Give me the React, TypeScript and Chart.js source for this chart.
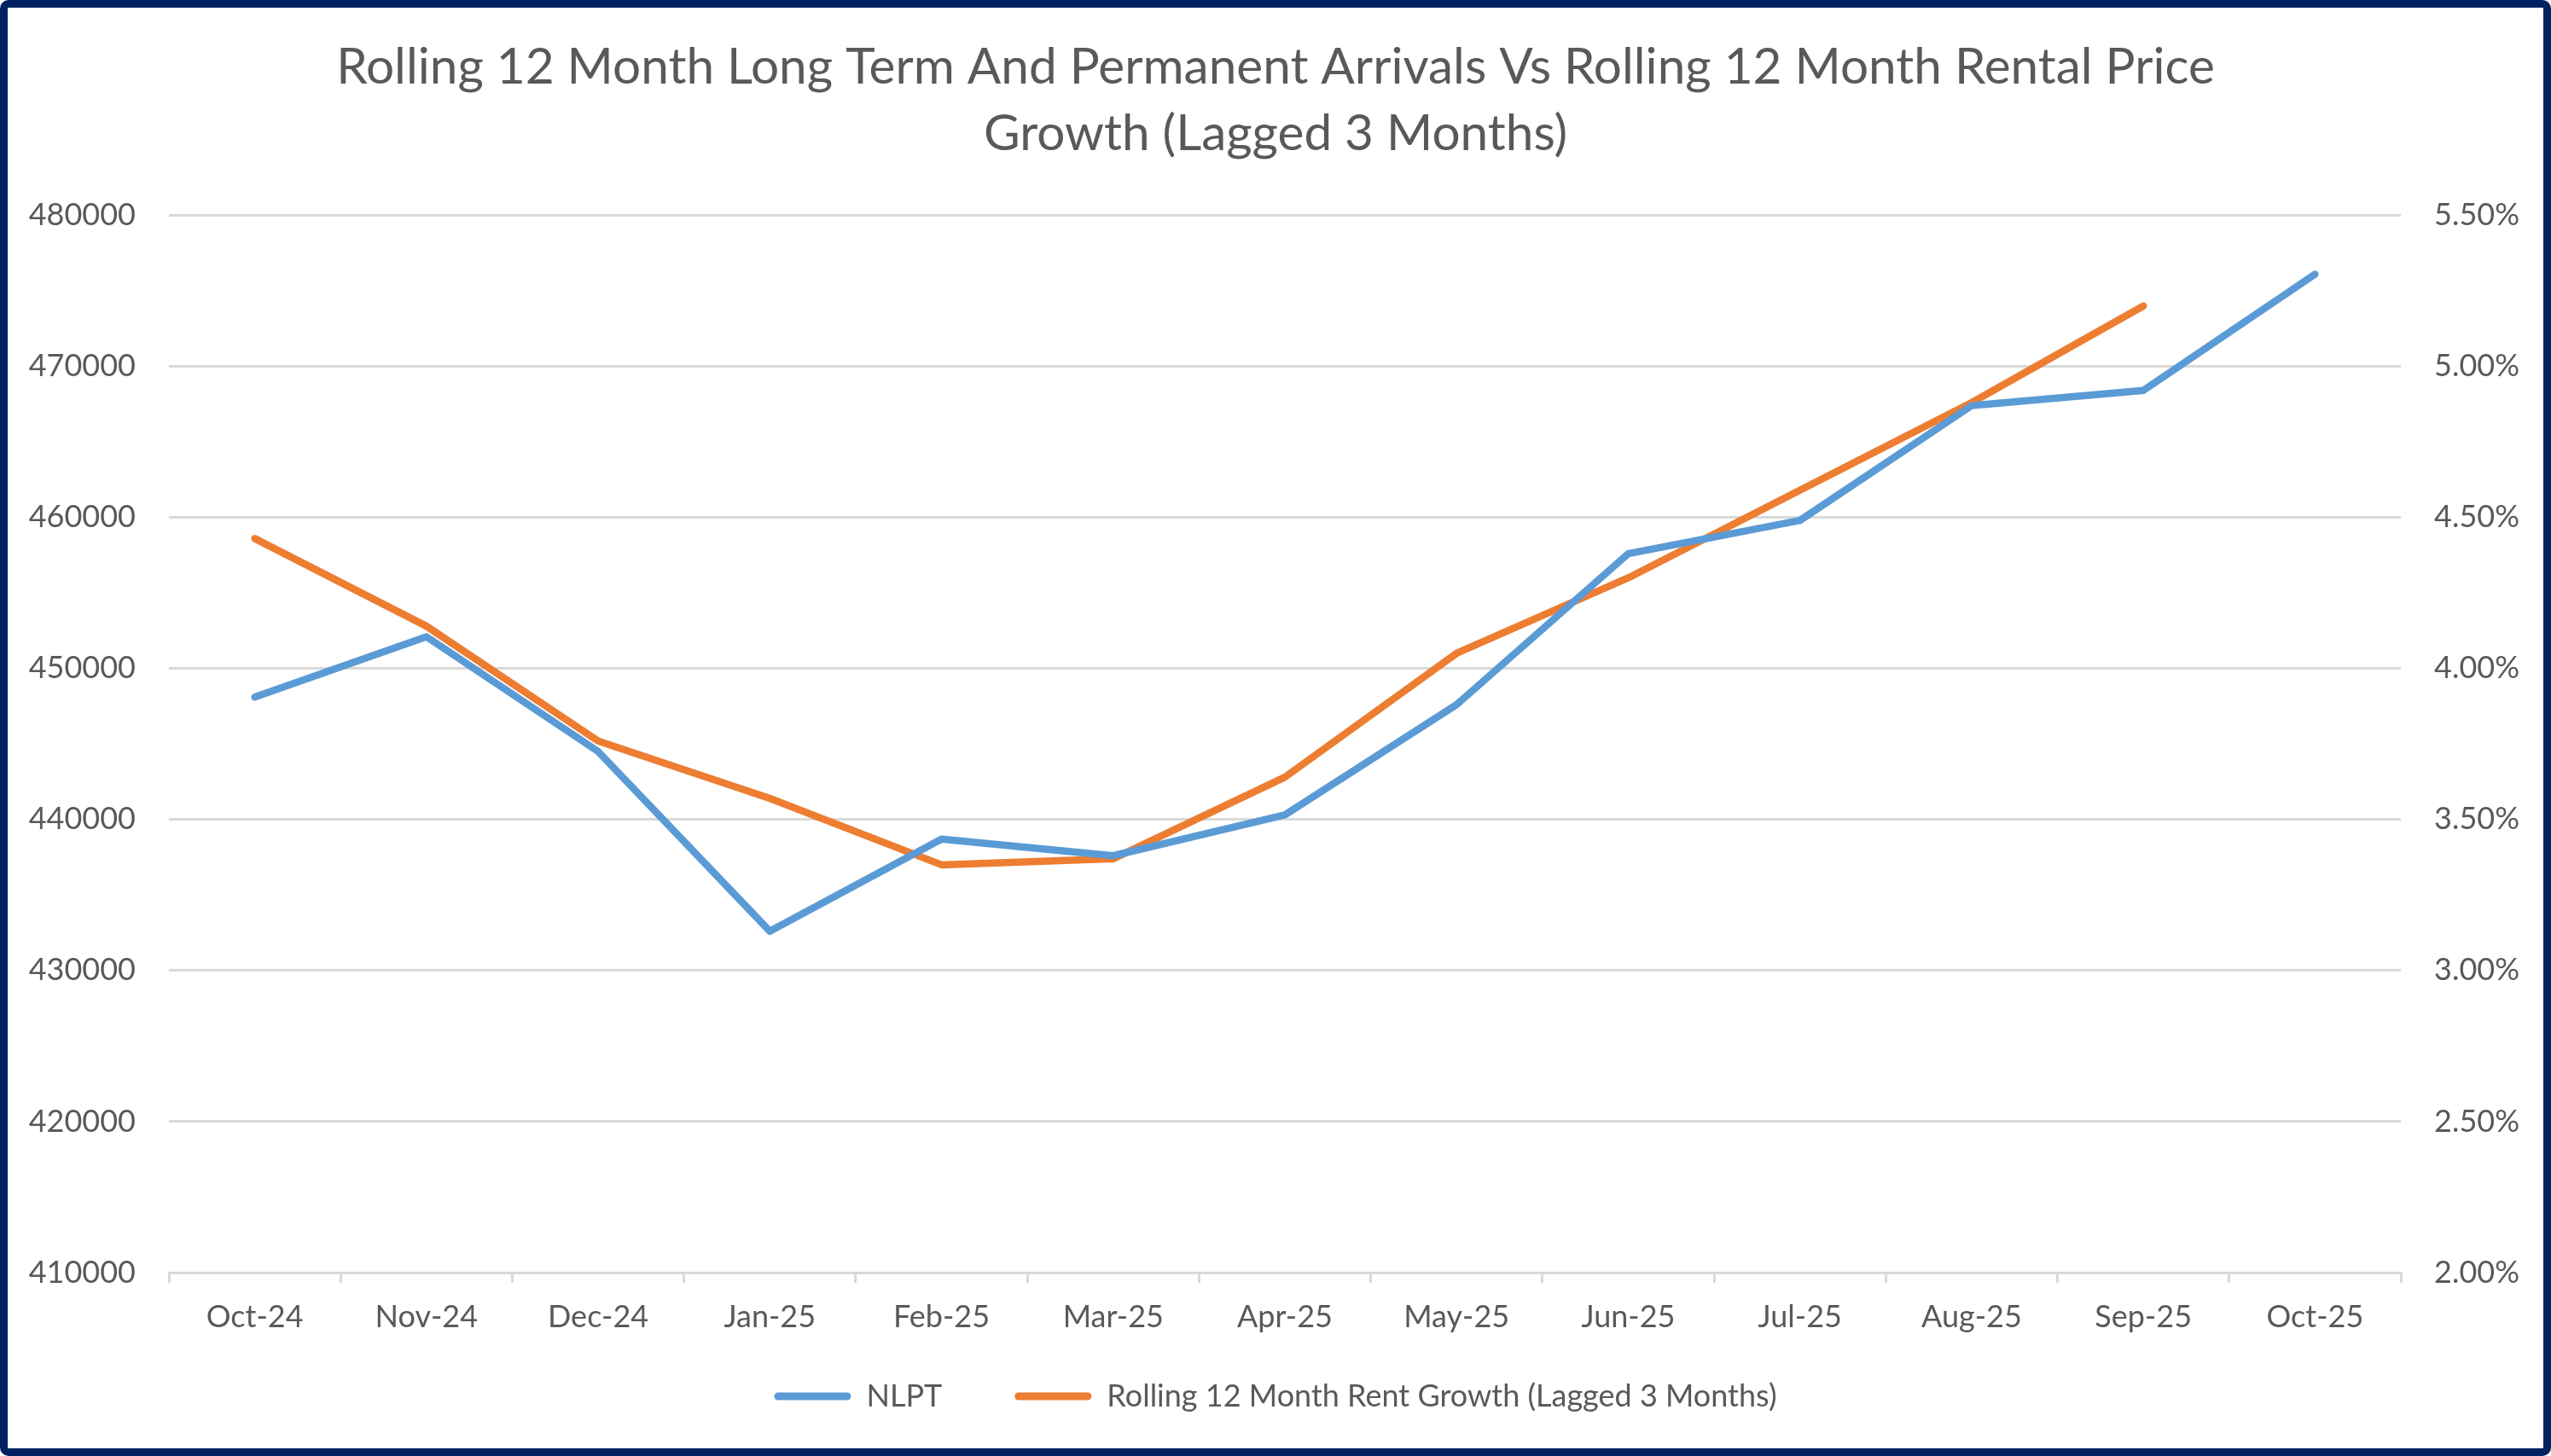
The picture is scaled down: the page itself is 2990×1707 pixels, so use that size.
import { useEffect, useRef } from 'react';
import Chart from 'chart.js/auto';

// Categories and series
const months = [
  'Oct-24', 'Nov-24', 'Dec-24', 'Jan-25', 'Feb-25', 'Mar-25', 'Apr-25',
  'May-25', 'Jun-25', 'Jul-25', 'Aug-25', 'Sep-25', 'Oct-25',
];

const nlpt = [
  448100, 452100, 444500, 432600, 438700, 437600, 440300,
  447600, 457600, 459800, 467400, 468400, 476100,
];

// percent, lagged 3 months (no value yet for the last month)
const rentGrowth = [
  4.43, 4.14, 3.76, 3.57, 3.35, 3.37, 3.64,
  4.05, 4.30, 4.59, 4.88, 5.20, null,
];

const leftTicks = [410000, 420000, 430000, 440000, 450000, 460000, 470000, 480000];
const rightTicks = [2.0, 2.5, 3.0, 3.5, 4.0, 4.5, 5.0, 5.5];

const titleLines = [
  'Rolling 12 Month Long Term And Permanent Arrivals Vs Rolling 12 Month Rental Price',
  'Growth (Lagged 3 Months)',
];

const BLUE = '#5B9BD5';
const ORANGE = '#ED7D31';
const TEXT = '#595959';
const GRID = '#D9D9D9';
const FONT = 'Lato';

// the legend needs a wide gap between items but sits close under the axis,
// so move it up after layout instead of shrinking its padding
const legendShift = {
  id: 'legendShift',
  afterLayout(chart: any) {
    if (chart.legend) {
      chart.legend.top -= 33;
      chart.legend.bottom -= 33;
    }
  },
};

export default function App() {
  const canvasRef = useRef<HTMLCanvasElement | null>(null);
  const chartRef = useRef<Chart | null>(null);

  useEffect(() => {
    document.body.style.margin = '0';
    if (!canvasRef.current) return;

    if (chartRef.current) {
      chartRef.current.destroy();
      chartRef.current = null;
    }

    const ctx = canvasRef.current.getContext('2d');
    if (!ctx) return;

    chartRef.current = new Chart(ctx, {
      type: 'line',
      data: {
        labels: months,
        datasets: [
          {
            label: 'NLPT',
            data: nlpt,
            yAxisID: 'y',
            borderColor: BLUE,
            backgroundColor: BLUE,
            borderWidth: 8.5,
            borderCapStyle: 'round',
            borderJoinStyle: 'round',
            pointRadius: 0,
            tension: 0,
          },
          {
            label: 'Rolling 12 Month Rent Growth (Lagged 3 Months)',
            data: rentGrowth,
            yAxisID: 'y1',
            borderColor: ORANGE,
            backgroundColor: ORANGE,
            borderWidth: 8.5,
            borderCapStyle: 'round',
            borderJoinStyle: 'round',
            pointRadius: 0,
            tension: 0,
          },
        ],
      },
      plugins: [legendShift],
      options: {
        responsive: true,
        maintainAspectRatio: false,
        animation: false,
        layout: {
          padding: { top: 0, left: 0, right: 0, bottom: 0 },
        },
        plugins: {
          tooltip: { enabled: false },
          title: {
            display: true,
            text: titleLines,
            color: TEXT,
            font: { family: FONT, size: 58.5, weight: 'normal', lineHeight: 1.32 },
            padding: { top: 32, bottom: 57 },
          },
          legend: {
            position: 'bottom',
            labels: {
              color: TEXT,
              font: { family: FONT, size: 36 },
              boxWidth: 90,
              boxHeight: 9,
              padding: 85,
              useBorderRadius: true,
              borderRadius: 4.5,
              generateLabels: (chart: any) =>
                Chart.defaults.plugins.legend.labels
                  .generateLabels(chart)
                  .map((item: any) => ({ ...item, lineWidth: 0 })),
            },
          },
        },
        scales: {
          x: {
            offset: true,
            afterFit: (scale: any) => {
              scale.height = 75;
            },
            grid: {
              offset: true,
              drawOnChartArea: false,
              drawTicks: true,
              tickLength: 12,
              color: GRID,
              lineWidth: 3,
            },
            border: { display: true, color: GRID, width: 3 },
            ticks: {
              color: TEXT,
              font: { family: FONT, size: 36 },
              padding: 19,
              maxRotation: 0,
              autoSkip: false,
            },
          },
          y: {
            position: 'left',
            min: leftTicks[0],
            max: leftTicks[leftTicks.length - 1],
            afterBuildTicks: (scale: any) => {
              scale.ticks = leftTicks.map((v) => ({ value: v }));
            },
            afterFit: (scale: any) => {
              scale.width = 189;
            },
            grid: { color: GRID, lineWidth: 3, drawTicks: false },
            border: { display: false },
            ticks: {
              color: TEXT,
              font: { family: FONT, size: 36 },
              padding: 39,
              callback: (v: any) => String(v),
            },
          },
          y1: {
            position: 'right',
            min: rightTicks[0],
            max: rightTicks[rightTicks.length - 1],
            afterBuildTicks: (scale: any) => {
              scale.ticks = rightTicks.map((v) => ({ value: v }));
            },
            afterFit: (scale: any) => {
              scale.width = 167;
            },
            grid: { drawOnChartArea: false, drawTicks: false },
            border: { display: false },
            ticks: {
              color: TEXT,
              font: { family: FONT, size: 36 },
              padding: 39,
              callback: (v: any) => Number(v).toFixed(2) + '%',
            },
          },
        },
      },
    });

    return () => {
      if (chartRef.current) {
        chartRef.current.destroy();
        chartRef.current = null;
      }
    };
  }, []);

  return (
    <div
      style={{
        position: 'absolute',
        left: 0,
        top: 0,
        width: 2990,
        height: 1707,
        boxSizing: 'border-box',
        border: '9px solid #002060',
        borderRadius: 10,
        background: '#ffffff',
        overflow: 'hidden',
      }}
    >
      <div style={{ position: 'relative', width: 2972, height: 1689 }}>
        <canvas ref={canvasRef} />
      </div>
    </div>
  );
}
